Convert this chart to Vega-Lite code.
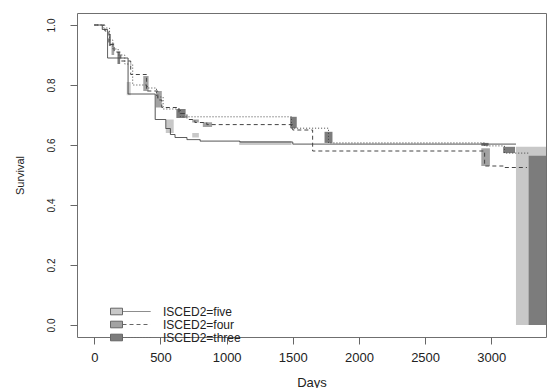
{
  "$schema": "https://vega.github.io/schema/vega-lite/v6.json",
  "width": 469,
  "height": 324,
  "autosize": {"type": "none"},
  "padding": {"left": 77, "top": 13, "right": 2, "bottom": 51},
  "background": "white",
  "config": {"view": {"stroke": "#6f6f6f", "strokeWidth": 1}, "font": "Liberation Sans"},
  "datasets": {
    "boxes": [
      {"group": "five", "start": 245, "end": 275, "low": 0.766, "high": 0.81},
      {"group": "five", "start": 540, "end": 600, "low": 0.64, "high": 0.685},
      {"group": "five", "start": 740, "end": 790, "low": 0.625, "high": 0.64},
      {"group": "five", "start": 1095, "end": 1490, "low": 0.6, "high": 0.613},
      {"group": "five", "start": 3187, "end": 3414, "low": 0, "high": 0.594},
      {"group": "four", "start": 130, "end": 150, "low": 0.9, "high": 0.94},
      {"group": "four", "start": 370, "end": 410, "low": 0.78, "high": 0.83},
      {"group": "four", "start": 465, "end": 510, "low": 0.725, "high": 0.78},
      {"group": "four", "start": 740, "end": 790, "low": 0.675, "high": 0.685},
      {"group": "four", "start": 820, "end": 890, "low": 0.66, "high": 0.676},
      {"group": "four", "start": 2925, "end": 2990, "low": 0.53, "high": 0.589},
      {"group": "three", "start": 110, "end": 125, "low": 0.93, "high": 0.97},
      {"group": "three", "start": 175, "end": 195, "low": 0.87, "high": 0.91},
      {"group": "three", "start": 620, "end": 690, "low": 0.69, "high": 0.72},
      {"group": "three", "start": 1480, "end": 1530, "low": 0.656, "high": 0.694},
      {"group": "three", "start": 1740, "end": 1800, "low": 0.607, "high": 0.644},
      {"group": "three", "start": 2925, "end": 2980, "low": 0.597, "high": 0.607},
      {"group": "three", "start": 3090, "end": 3180, "low": 0.573, "high": 0.594},
      {"group": "three", "start": 3283, "end": 3414, "low": 0, "high": 0.564}
    ],
    "curves": [
      {"stratum": "five", "day": 0, "surv": 1.0},
      {"stratum": "five", "day": 60, "surv": 0.985},
      {"stratum": "five", "day": 100, "surv": 0.89},
      {"stratum": "five", "day": 255, "surv": 0.77},
      {"stratum": "five", "day": 460, "surv": 0.685},
      {"stratum": "five", "day": 540, "surv": 0.655},
      {"stratum": "five", "day": 575, "surv": 0.635},
      {"stratum": "five", "day": 610, "surv": 0.625},
      {"stratum": "five", "day": 700, "surv": 0.618},
      {"stratum": "five", "day": 800, "surv": 0.613},
      {"stratum": "five", "day": 1100, "surv": 0.61},
      {"stratum": "five", "day": 1500, "surv": 0.603},
      {"stratum": "five", "day": 3187, "surv": 0.603},
      {"stratum": "four", "day": 0, "surv": 1.0},
      {"stratum": "four", "day": 80, "surv": 0.98},
      {"stratum": "four", "day": 110, "surv": 0.935},
      {"stratum": "four", "day": 150, "surv": 0.91},
      {"stratum": "four", "day": 200, "surv": 0.88},
      {"stratum": "four", "day": 275, "surv": 0.835},
      {"stratum": "four", "day": 395, "surv": 0.78},
      {"stratum": "four", "day": 480, "surv": 0.75},
      {"stratum": "four", "day": 510, "surv": 0.725},
      {"stratum": "four", "day": 640, "surv": 0.705},
      {"stratum": "four", "day": 700, "surv": 0.685},
      {"stratum": "four", "day": 760, "surv": 0.675},
      {"stratum": "four", "day": 850, "surv": 0.668},
      {"stratum": "four", "day": 1500, "surv": 0.65},
      {"stratum": "four", "day": 1650, "surv": 0.58},
      {"stratum": "four", "day": 2950, "surv": 0.53},
      {"stratum": "four", "day": 3100, "surv": 0.525},
      {"stratum": "four", "day": 3270, "surv": 0.525},
      {"stratum": "three", "day": 0, "surv": 1.0},
      {"stratum": "three", "day": 70, "surv": 0.99},
      {"stratum": "three", "day": 115, "surv": 0.95},
      {"stratum": "three", "day": 140, "surv": 0.92},
      {"stratum": "three", "day": 180, "surv": 0.9},
      {"stratum": "three", "day": 230, "surv": 0.87},
      {"stratum": "three", "day": 290, "surv": 0.8},
      {"stratum": "three", "day": 400, "surv": 0.79},
      {"stratum": "three", "day": 470, "surv": 0.76},
      {"stratum": "three", "day": 520, "surv": 0.72},
      {"stratum": "three", "day": 650, "surv": 0.694},
      {"stratum": "three", "day": 1490, "surv": 0.656},
      {"stratum": "three", "day": 1770, "surv": 0.607},
      {"stratum": "three", "day": 2950, "surv": 0.597},
      {"stratum": "three", "day": 3100, "surv": 0.573},
      {"stratum": "three", "day": 3283, "surv": 0.573}
    ]
  },
  "layer": [
    {
      "data": {"name": "boxes"},
      "mark": {"type": "rect", "strokeWidth": 0, "clip": true},
      "encoding": {
        "x": {
          "field": "start", "type": "quantitative",
          "scale": {"domain": [-131, 3414], "nice": false, "zero": false},
          "axis": {
            "title": "Days", "values": [0, 500, 1000, 1500, 2000, 2500, 3000], "format": "d",
            "grid": false, "domain": false, "tickSize": 7, "tickColor": "#666",
            "labelFontSize": 13, "labelPadding": 7, "labelColor": "#222", "labelFlush": false,
            "titleFontSize": 13, "titleFontWeight": "normal", "titleColor": "#222",
            "titleY": 45, "titleBaseline": "middle"
          }
        },
        "x2": {"field": "end"},
        "y": {
          "field": "low", "type": "quantitative",
          "scale": {"domain": [-0.04, 1.04], "nice": false, "zero": false},
          "axis": {
            "title": "Survival", "values": [0, 0.2, 0.4, 0.6, 0.8, 1.0], "format": ".1f",
            "grid": false, "domain": false, "tickSize": 7, "tickColor": "#666",
            "labelFontSize": 10, "labelAngle": -90, "labelAlign": "center", "labelBaseline": "bottom",
            "labelPadding": 14, "labelColor": "#222", "labelFlush": false,
            "titleFontSize": 11, "titleFontWeight": "normal", "titleColor": "#222",
            "titleX": -57, "titleY": 162, "titleBaseline": "middle", "titleAlign": "center", "titleAngle": -90
          }
        },
        "y2": {"field": "high"},
        "fill": {
          "field": "group", "type": "nominal",
          "scale": {"domain": ["five", "four", "three"], "range": ["#c8c8c8", "#a2a2a2", "#7c7c7c"]},
          "legend": {
            "title": null, "orient": "none", "legendX": 33, "legendY": 292,
            "labelExpr": "' '",
            "symbolType": "M-1,-0.55H1V0.55H-1Z",
            "symbolSize": 144, "labelOffset": 40, "labelFontSize": 12, "labelColor": "#222",
            "rowPadding": 0, "symbolStrokeColor": "#666", "symbolStrokeWidth": 1,
            "encode": {"symbols": {"update": {"stroke": {"value": "#666"}, "strokeWidth": {"value": 1}}}}
          }
        }
      }
    },
    {
      "data": {"name": "curves"},
      "mark": {"type": "line", "interpolate": "step-after", "strokeWidth": 1, "clip": true, "color": "#444"},
      "encoding": {
        "x": {"field": "day", "type": "quantitative"},
        "y": {"field": "surv", "type": "quantitative"},
        "strokeDash": {
          "field": "stratum", "type": "nominal",
          "scale": {"range": [[1, 0], [4, 3], [1, 2]]},
          "legend": {
            "title": null, "orient": "none", "legendX": 33, "legendY": 292,
            "labelExpr": "'ISCED2=' + datum.label",
            "symbolType": "M1,0H5.67",
            "symbolSize": 144, "labelOffset": 40, "labelFontSize": 12, "labelColor": "#222",
            "rowPadding": 0, "symbolStrokeColor": "#666", "symbolStrokeWidth": 1
          }
        }
      }
    }
  ]
}
